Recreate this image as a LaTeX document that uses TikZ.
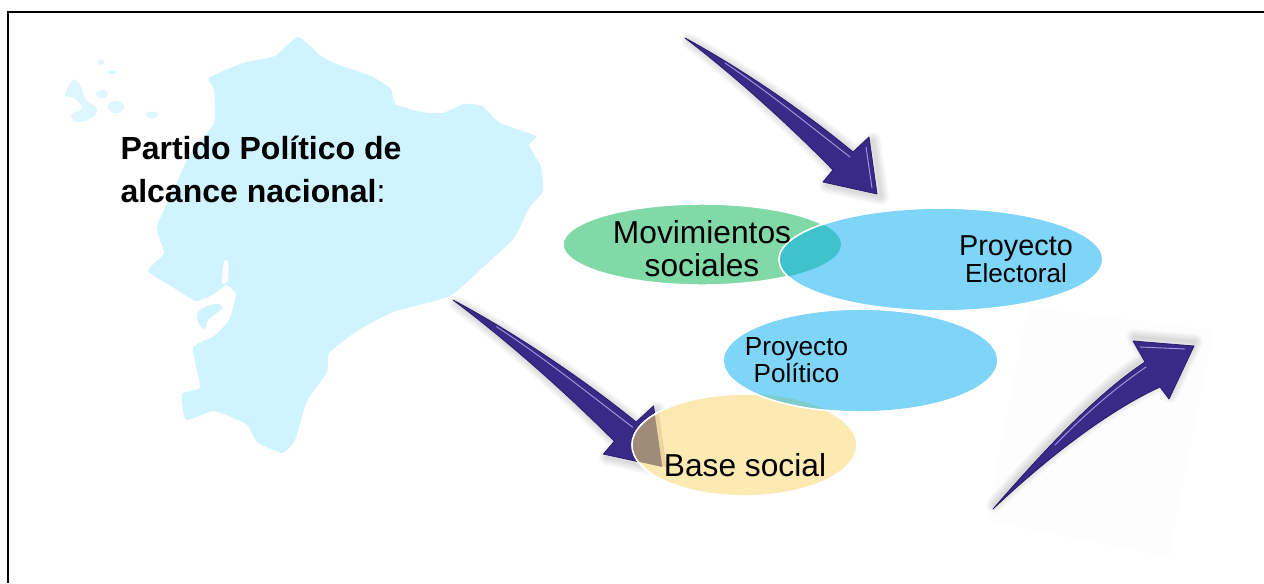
\documentclass[tikz,border=0pt]{standalone}
\usepackage{fontspec}
\setmainfont{Liberation Sans}
\usetikzlibrary{shapes.geometric}
\definecolor{mapblue}{HTML}{CFF3FF}
\definecolor{islandblue}{HTML}{DDF6FF}
\definecolor{arrowmain}{HTML}{3A2A88}
\definecolor{arrowdark}{HTML}{2A1C6C}
\definecolor{arrowlight}{HTML}{9F9ADF}
\definecolor{mgreen}{HTML}{82D9A8}
\definecolor{pblue}{HTML}{7FD5F8}
\definecolor{byellow}{HTML}{FDE9B2}
\definecolor{tealover}{HTML}{40C2CC}
\definecolor{seaover}{HTML}{7CCDCB}
\definecolor{brownover}{HTML}{A08A78}
\definecolor{brownshade}{HTML}{EBD6A2}
\definecolor{panelgrey}{HTML}{FDFDFD}
\tikzset{
  blob/.style={ellipse,draw=white,line width=1.1pt,inner sep=0pt,outer sep=0pt},
  lbl/.style={anchor=base,inner sep=0pt,outer sep=0pt,text=black},
  big/.style={font=\fontsize{23.8}{24}\selectfont},
  mid/.style={font=\fontsize{19.6}{20}\selectfont},
  arrowbody/.style={fill=arrowmain,draw=arrowdark,line width=0.6pt,line join=round},
  arrowshine/.style={draw=arrowlight,line width=0.7pt,line cap=round},
  softshadow/.style={draw=black,draw opacity=0.022,line width=#1,line join=round},
}
\def\ArrowOnePath{(0,0) .. controls (50,27) and (115,70) .. (168,114) -- (184,99) -- (192,156) -- (138,144) -- (148,132) .. controls (105,88) and (50,38) .. (0,0) -- cycle}
\def\ArrowTwoPath{(993,509) .. controls (1040,455) and (1095,395) .. (1145,362) -- (1133,341) -- (1194,346) -- (1169,399) -- (1160,387) .. controls (1110,410) and (1050,455) .. (993,509) -- cycle}
\begin{document}
\begin{tikzpicture}[x=0.75pt,y=-0.75pt]
\useasboundingbox (0,0) rectangle (1264,583);
\fill[white] (0,0) rectangle (1264,583);
% frame
\draw[black,line width=1.5pt] (8,583) -- (8,12) -- (1264,12);
% map
\fill[mapblue] plot[smooth cycle,tension=0.3] coordinates {
 (298,37) (321,56) (339,65) (371,76) (391,89) (395,104) (421,112) (443,113) (464,104) (482,106)
 (500,123) (536,136) (529,145) (541,167) (543,191) (529,208) (514,238) (482,268) (450,296)
 (393,312) (357,331) (329,353) (327,372) (307,401) (295,440) (282,453) (257,442) (246,424)
 (214,411) (186,420) (182,394) (200,387) (193,348) (214,336) (229,320) (236,294) (226,285)
 (214,294) (196,301) (171,286) (148,271) (164,253) (157,227) (179,178) (189,156) (214,123)
 (214,89) (209,78) (243,63) (275,56)};
\fill[white] plot[smooth cycle,tension=0.5] coordinates {(224,262) (228,262) (228,280) (222,283)};
\fill[mapblue] plot[smooth cycle,tension=0.6] coordinates {(214,304) (222,308) (208,320) (205,329) (198,322) (199,311)};
\fill[islandblue] plot[smooth cycle,tension=0.6] coordinates {(73,80) (80,85) (86,100) (97,108) (93,117) (78,122) (71,115) (82,108) (74,98) (65,95)};
\fill[islandblue] (102,94) ellipse [x radius=6,y radius=4];
\fill[islandblue] (116,107) ellipse [x radius=8,y radius=6];
\fill[islandblue] (152,115) ellipse [x radius=6,y radius=3.5];
\fill[islandblue] (101,62) ellipse [x radius=3,y radius=3];
\fill[islandblue] (112,72) ellipse [x radius=4,y radius=2];
% faint panel behind the right arrow
\fill[panelgrey] (1028,307) -- (1213,330) -- (1168,557) -- (987,520) -- cycle;
% top arrow
\begin{scope}[shift={(685,38)}]
  \begin{scope}[shift={(4,3)}]
    \foreach \w in {12,10,8,6,4,2}{\path[softshadow=\w] \ArrowOnePath;}
  \end{scope}
  \path[arrowbody] \ArrowOnePath;
  \draw[arrowshine] (40,25) .. controls (85,55) and (125,88) .. (165,119);
  \draw[arrowshine] (181,109) -- (187,150);
\end{scope}
% right arrow
\begin{scope}[shift={(1,-4)}]
  \foreach \w in {12,10,8,6,4,2}{\path[softshadow=\w] \ArrowTwoPath;}
\end{scope}
\path[arrowbody] \ArrowTwoPath;
\draw[arrowshine] (1055,445) .. controls (1085,414) and (1115,388) .. (1146,367);
\draw[arrowshine] (1140,347) -- (1185,349);
% lower arrow
\begin{scope}[shift={(453,300)},xscale=1.09,yscale=1.07]
  \begin{scope}[shift={(3,3)}]
    \foreach \w in {12,10,8,6,4,2}{\path[softshadow=\w] \ArrowOnePath;}
  \end{scope}
  \path[arrowbody] \ArrowOnePath;
  \draw[arrowshine] (40,25) .. controls (85,55) and (125,88) .. (165,119);
\end{scope}
% green and electoral ellipses
\node[blob,fill=mgreen,minimum width=208.5pt,minimum height=60.75pt] (movi) at (702,244.5) {};
\node[blob,fill=pblue,minimum width=243pt,minimum height=77.25pt] (elec) at (941,259.5) {};
\begin{scope}
  \clip (702,244.5) ellipse [x radius=139,y radius=40.5];
  \fill[tealover] (941,259.5) ellipse [x radius=162,y radius=51.5];
\end{scope}
\draw[white,line width=1.1pt] (941,259.5) ellipse [x radius=162,y radius=51.5];
% base social
\node[blob,fill=byellow,minimum width=168.75pt,minimum height=76.5pt] (base) at (744.5,445) {};
\begin{scope}
  \clip (744.5,445) ellipse [x radius=112.5,y radius=51];
  \begin{scope}[shift={(453,300)},xscale=1.09,yscale=1.07]
    \begin{scope}[shift={(4,0)}]
      \fill[brownshade] \ArrowOnePath;
    \end{scope}
    \fill[brownover] \ArrowOnePath;
  \end{scope}
\end{scope}
\draw[white,line width=1.1pt] (744.5,445) ellipse [x radius=112.5,y radius=51];
% politico
\node[blob,fill=pblue,minimum width=206.25pt,minimum height=77.25pt] (poli) at (860.5,360.5) {};
\begin{scope}
  \clip (860.5,360.5) ellipse [x radius=137.5,y radius=51.5];
  \fill[seaover] (744.5,445) ellipse [x radius=112.5,y radius=51];
\end{scope}
\draw[white,line width=1.1pt] (860.5,360.5) ellipse [x radius=137.5,y radius=51.5];
% labels
\node[lbl,anchor=base west,font=\fontsize{24}{24}\selectfont\bfseries] (t1) at (120.5,159) {Partido Político de};
\node[lbl,anchor=base west,font=\fontsize{24}{24}\selectfont] (t2) at (120.5,202) {\textbf{alcance nacional}:};
\node[lbl,big] (m1) at (702,243) {Movimientos};
\node[lbl,big] (m2) at (702,276.5) {sociales};
\node[lbl,font=\fontsize{21.6}{22}\selectfont] (e1) at (1016,255) {Proyecto};
\node[lbl,mid] (e2) at (1016,282.5) {Electoral};
\node[lbl,mid] (p1) at (796.5,355) {Proyecto};
\node[lbl,mid] (p2) at (796.5,382.5) {Político};
\node[lbl,big] (b1) at (745,476.5) {Base social};
\end{tikzpicture}
\end{document}
